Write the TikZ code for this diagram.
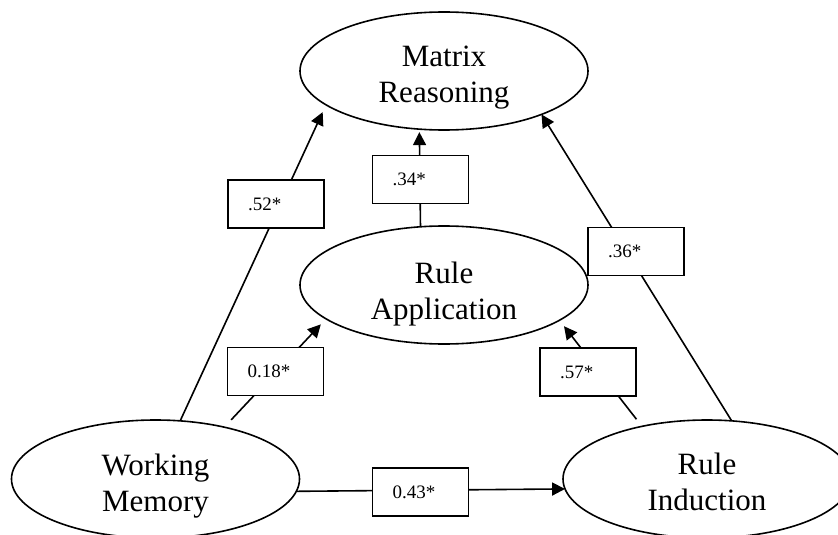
\documentclass[tikz,border=0pt]{standalone}
\usepackage{fontspec}
\setmainfont{Liberation Serif}
\usetikzlibrary{arrows.meta,shapes.geometric}

\tikzset{
  latent/.style={ellipse, draw, line width=1.6pt, minimum width=288pt,
    minimum height=118pt, inner sep=0pt, outer sep=0pt},
  latname/.style={anchor=north, align=center, inner sep=0pt,
    font=\fontsize{31}{36}\selectfont},
  coef/.style={draw, fill=white, line width=1.7pt, text width=56pt,
    inner xsep=20pt, inner ysep=0pt, minimum height=48pt, align=left,
    font=\fontsize{19}{22}\selectfont},
  effect/.style={line width=1.6pt, -{Triangle[length=13pt,width=13pt]}},
}

\begin{document}
\begin{tikzpicture}[x=1pt,y=-1pt]
\useasboundingbox (0,0) rectangle (838,535);

% latent constructs
\node[latent] (mr) at (444,71) {};
\node[latent] (ra) at (444,285) {};
\node[latent] (wm) at (155.5,479) {};
\node[latent] (ri) at (707,479) {};

\node[latname] (mrt) at ([yshift=25pt]mr.center) {Matrix\\Reasoning};
\node[latname] (rat) at ([yshift=23pt]ra.center) {Rule\\Application};
\node[latname] (wmt) at ([yshift=25pt]wm.center) {Working\\Memory};
\node[latname] (rit) at ([yshift=26pt]ri.center) {Rule\\Induction};

% structural paths
\draw[effect, shorten >=8pt] (wm.67) -- (mr.196);
\draw[effect] (ri.67) -- (mr.336.3);
\draw[effect, shorten <=9pt, shorten >=7.5pt] (ri.141.2) -- (ra.343.7);
\draw[effect, shorten <=10pt, shorten >=7.6pt] (wm.37.9) -- (ra.196.6);
\draw[effect, shorten >=3pt] (ra.112.8) -- (mr.247.8);
\draw[effect] (wm.355.1) -- (ri.184.9);

% path coefficients
\node[coef] (c52) at (276,204) {.52*};
\node[coef] (c34) at (420.5,179.5) {.34*};
\node[coef] (c36) at (636,251.5) {.36*};
\node[coef] (c57) at (588,372) {.57*};
\node[coef] (c18) at (275.5,371.5) {0.18*};
\node[coef] (c43) at (420.5,492) {0.43*};
\end{tikzpicture}
\end{document}
